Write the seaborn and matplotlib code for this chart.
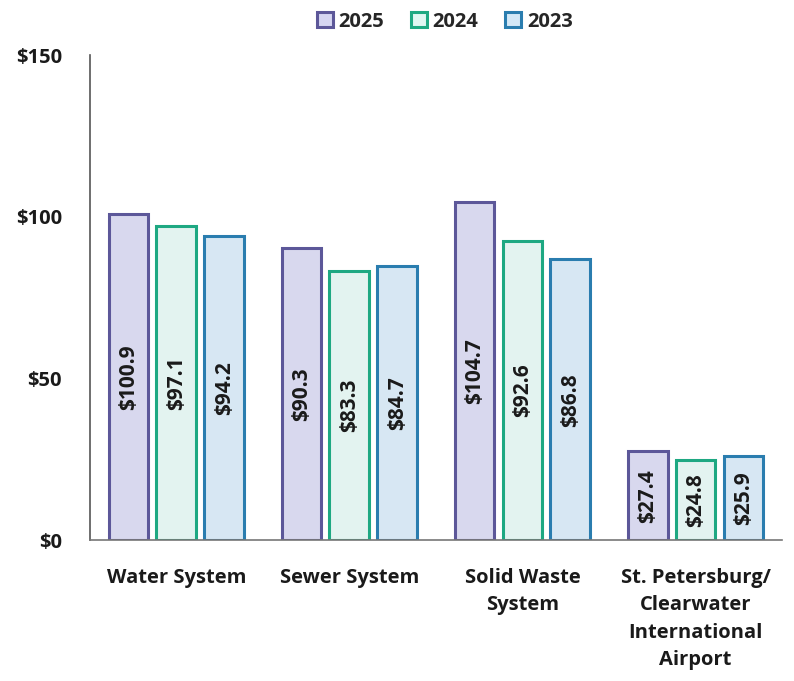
import matplotlib
matplotlib.use("Agg")
import matplotlib.pyplot as plt
import seaborn as sns
import pandas as pd
from matplotlib.patches import Patch

categories = ["Water System", "Sewer System", "Solid Waste\nSystem",
              "St. Petersburg/\nClearwater\nInternational\nAirport"]
years = ["2025", "2024", "2023"]
values_2025 = [100.9, 90.3, 104.7, 27.4]
values_2024 = [97.1, 83.3, 92.6, 24.8]
values_2023 = [94.2, 84.7, 86.8, 25.9]
yticks = [0, 50, 100, 150]
ytick_labels = ["$0", "$50", "$100", "$150"]

fills = {"2025": "#D5D5F1", "2024": "#E0F6F2", "2023": "#D3E8F7"}
edges = {"2025": "#5C5799", "2024": "#1EA882", "2023": "#2A7DAF"}

rows = []
for yr, vals in zip(years, [values_2025, values_2024, values_2023]):
    for c, v in zip(categories, vals):
        rows.append({"cat": c, "year": yr, "val": v})
df = pd.DataFrame(rows)

sns.set_theme(style="white")
plt.rcParams["font.family"] = ["Open Sans", "DejaVu Sans"]
plt.rcParams["font.weight"] = "bold"

fig = plt.figure(figsize=(7.94, 6.81), dpi=100)
ax = fig.add_axes([0.113, 0.207, 0.872, 0.712])

sns.barplot(data=df, x="cat", y="val", hue="year", hue_order=years,
            palette=fills, width=0.83, gap=0.17, ax=ax, legend=False,
            errorbar=None, linewidth=2.2)

TXT = "#1a1a1a"
for cont, yr in zip(ax.containers, years):
    for bar in cont:
        bar.set_edgecolor(edges[yr])
        bar.set_linewidth(2.2)
    labels = [f"${v:.1f}" for v in cont.datavalues]
    for bar, lab in zip(cont, labels):
        ax.text(bar.get_x() + bar.get_width() / 2, bar.get_height() / 2, lab,
                rotation=90, ha="center", va="center", fontsize=15,
                fontweight="bold", color=TXT)

ax.set_ylim(0, 150)
ax.set_xlim(-0.5, 3.5)
ax.set_yticks(yticks)
ax.set_yticklabels(ytick_labels, fontsize=14.5, fontweight="bold", color=TXT)
ax.set_xticks(range(len(categories)))
ax.set_xticklabels(categories, fontsize=14.5, fontweight="bold", color=TXT,
                   linespacing=1.5)
ax.tick_params(axis="x", pad=20, length=0)
ax.tick_params(axis="y", pad=20, length=0)
ax.set_xlabel("")
ax.set_ylabel("")
for s in ["top", "right"]:
    ax.spines[s].set_visible(False)
ax.spines["left"].set_color("#555555")
ax.spines["bottom"].set_color("#777777")
ax.spines["left"].set_linewidth(1.2)
ax.spines["bottom"].set_linewidth(1.2)

handles = [Patch(facecolor=fills[y], edgecolor=edges[y], linewidth=2.2, label=y)
           for y in years]
fig.legend(handles=handles, loc="center", bbox_to_anchor=(0.56, 0.968), ncol=3,
           frameon=False, prop={"size": 14.5, "weight": "bold"},
           handlelength=0.8, handleheight=0.8, handletextpad=0.3, columnspacing=1.3)

fig.savefig("out.png", dpi=100)
